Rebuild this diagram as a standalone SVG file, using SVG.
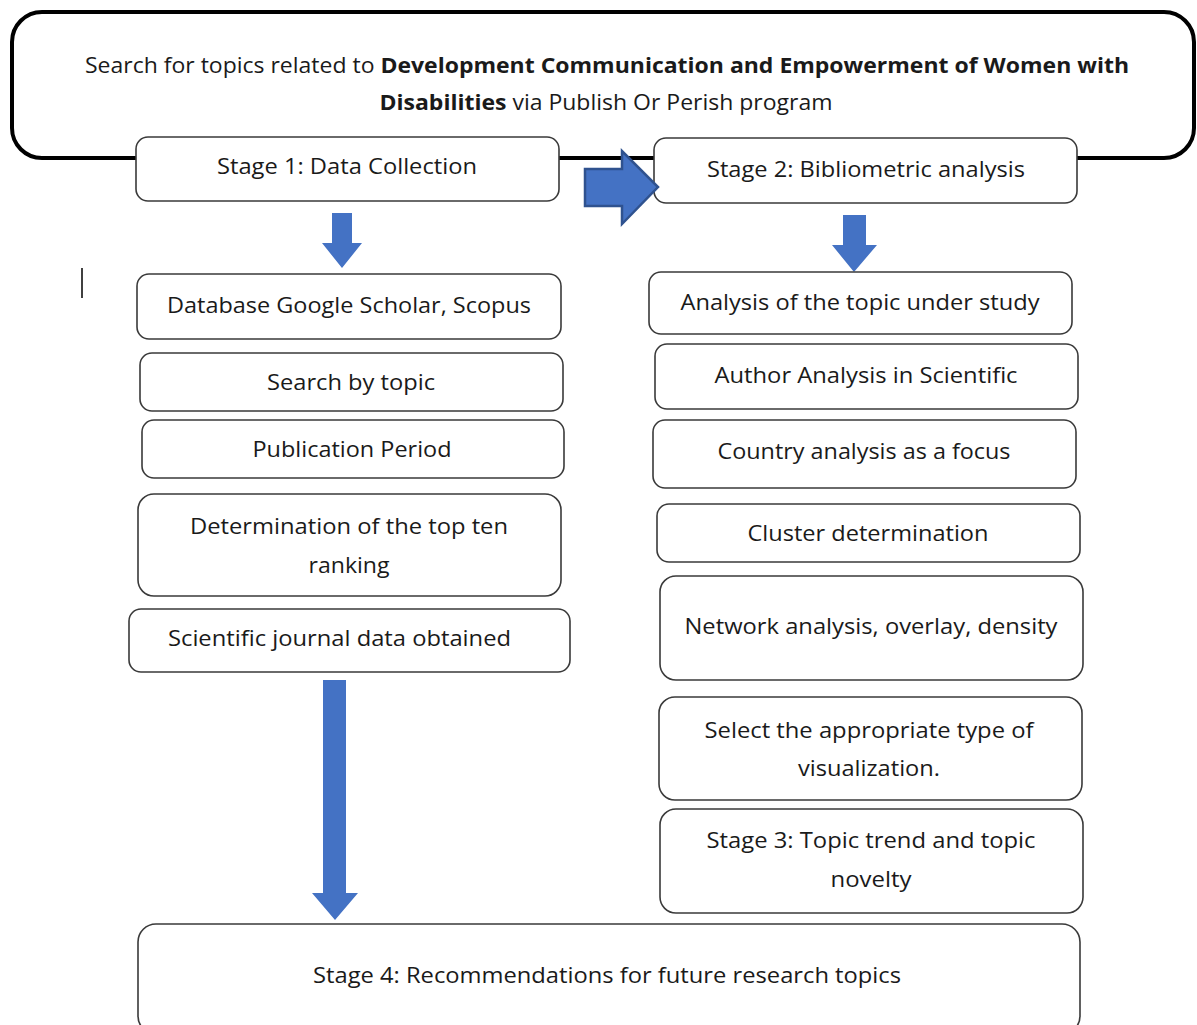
<svg xmlns="http://www.w3.org/2000/svg" width="1197" height="1025" viewBox="0 0 1197 1025">
<style>
.box{fill:#fff;stroke:#3a3a3a;stroke-width:1.6}
.t{font-family:"Open Sans","Noto Sans",sans-serif;font-size:21px;fill:#1a1a1a;text-anchor:middle}
.b{font-weight:bold}
.arr{fill:#4472C4}
.arr2{fill:#4472C4;stroke:#2F528F;stroke-width:2.5;stroke-linejoin:miter}
</style>
<rect width="1197" height="1025" fill="#fff"/>
<g id="top">
<rect x="12" y="12" width="1182" height="146" rx="30" fill="#fff" stroke="#000" stroke-width="4"/>
<text class="t" x="607" y="73" textLength="1044" lengthAdjust="spacingAndGlyphs">Search for topics related to <tspan class="b">Development Communication and Empowerment of Women with</tspan></text>
<text class="t" x="606" y="110" textLength="453" lengthAdjust="spacingAndGlyphs"><tspan class="b">Disabilities</tspan> via Publish Or Perish program</text>
</g>
<g id="stage1">
<rect class="box" x="136" y="137" width="423" height="64" rx="12"/>
<text class="t" x="347" y="174" textLength="260" lengthAdjust="spacingAndGlyphs">Stage 1: Data Collection</text>
</g>
<g id="stage2">
<rect class="box" x="654" y="138" width="423" height="65" rx="12"/>
<text class="t" x="866" y="177" textLength="318" lengthAdjust="spacingAndGlyphs">Stage 2: Bibliometric analysis</text>
</g>
<g id="connectors">
<polygon class="arr2" points="585,169 622,169 622,151 658,187 622,224 622,206 585,206"/>
<polygon class="arr" points="332,213 352,213 352,243 362,243 342,268 322,243 332,243"/>
<polygon class="arr" points="843,215 866,215 866,245 877,245 854,272 832,245 843,245"/>
<polygon class="arr" points="323,680 346,680 346,893 358,893 335,920 312,893 323,893"/>
</g>
<line x1="82" y1="268" x2="82" y2="298" stroke="#000" stroke-width="1.5"/>
<g id="database">
<rect class="box" x="137" y="274" width="424" height="65" rx="12"/>
<text class="t" x="349" y="313" textLength="364" lengthAdjust="spacingAndGlyphs">Database Google Scholar, Scopus</text>
</g>
<g id="search">
<rect class="box" x="140" y="353" width="423" height="58" rx="12"/>
<text class="t" x="351" y="390" textLength="168" lengthAdjust="spacingAndGlyphs">Search by topic</text>
</g>
<g id="period">
<rect class="box" x="142" y="420" width="422" height="58" rx="12"/>
<text class="t" x="352" y="457" textLength="199" lengthAdjust="spacingAndGlyphs">Publication Period</text>
</g>
<g id="ranking">
<rect class="box" x="138" y="494" width="423" height="102" rx="16"/>
<text class="t" x="349" y="534" textLength="318" lengthAdjust="spacingAndGlyphs">Determination of the top ten</text>
<text class="t" x="349" y="573" textLength="81" lengthAdjust="spacingAndGlyphs">ranking</text>
</g>
<g id="journal">
<rect class="box" x="129" y="609" width="441" height="63" rx="12"/>
<text class="t" x="339.5" y="646" textLength="343" lengthAdjust="spacingAndGlyphs">Scientific journal data obtained</text>
</g>
<g id="topic">
<rect class="box" x="649" y="272" width="423" height="62" rx="12"/>
<text class="t" x="860" y="310" textLength="359" lengthAdjust="spacingAndGlyphs">Analysis of the topic under study</text>
</g>
<g id="author">
<rect class="box" x="655" y="344" width="423" height="65" rx="12"/>
<text class="t" x="866" y="383" textLength="303" lengthAdjust="spacingAndGlyphs">Author Analysis in Scientific</text>
</g>
<g id="country">
<rect class="box" x="653" y="420" width="423" height="68" rx="12"/>
<text class="t" x="864" y="459" textLength="293" lengthAdjust="spacingAndGlyphs">Country analysis as a focus</text>
</g>
<g id="cluster">
<rect class="box" x="657" y="504" width="423" height="58" rx="12"/>
<text class="t" x="868" y="541" textLength="241" lengthAdjust="spacingAndGlyphs">Cluster determination</text>
</g>
<g id="network">
<rect class="box" x="660" y="576" width="423" height="104" rx="16"/>
<text class="t" x="871" y="634" textLength="373" lengthAdjust="spacingAndGlyphs">Network analysis, overlay, density</text>
</g>
<g id="visual">
<rect class="box" x="659" y="697" width="423" height="103" rx="16"/>
<text class="t" x="869" y="738" textLength="329" lengthAdjust="spacingAndGlyphs">Select the appropriate type of</text>
<text class="t" x="869" y="776" textLength="142" lengthAdjust="spacingAndGlyphs">visualization.</text>
</g>
<g id="stage3">
<rect class="box" x="660" y="809" width="423" height="104" rx="16"/>
<text class="t" x="871" y="848" textLength="329" lengthAdjust="spacingAndGlyphs">Stage 3: Topic trend and topic</text>
<text class="t" x="871" y="887" textLength="81" lengthAdjust="spacingAndGlyphs">novelty</text>
</g>
<g id="stage4">
<rect class="box" x="138" y="924" width="942" height="110" rx="18"/>
<text class="t" x="607" y="983" textLength="588" lengthAdjust="spacingAndGlyphs">Stage 4: Recommendations for future research topics</text>
</g>
</svg>
